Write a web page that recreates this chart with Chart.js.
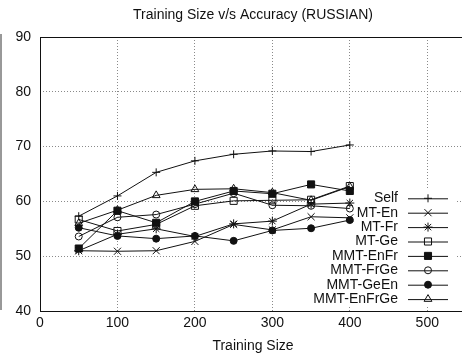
<!DOCTYPE html>
<html>
<head>
<meta charset="utf-8">
<script src="https://cdn.jsdelivr.net/npm/chart.js@4.4.1/dist/chart.umd.min.js"></script>
<style>
    html, body { margin: 0; padding: 0; overflow: hidden; background: #fff; }
    canvas { display: block; }
</style>
</head>
<body>
<canvas id="accChart" width="480" height="356"></canvas>
<script>
// Data
const trainingSizes = [50, 100, 150, 200, 250, 300, 350, 400];
const selfAcc       = [57.3, 61.0, 65.3, 67.4, 68.6, 69.2, 69.1, 70.3];
const mtEn          = [51.0, 50.9, 51.0, 52.7, 55.8, 54.8, 57.2, 57.0];
const mtFr          = [51.0, 54.0, 55.0, 53.6, 55.9, 56.4, 59.5, 59.7];
const mtGe          = [56.7, 54.6, 55.8, 59.2, 60.1, 60.2, 60.3, 62.8];
const mmtEnFr       = [51.4, 58.3, 56.1, 60.0, 61.9, 61.4, 63.1, 61.9];
const mmtFrGe       = [53.6, 57.1, 57.6, 59.5, 61.5, 59.3, 59.2, 58.7];
const mmtGeEn       = [55.2, 53.7, 53.2, 53.7, 52.8, 54.7, 55.1, 56.6];
const mmtEnFrGe     = [56.0, 58.4, 61.1, 62.2, 62.3, 61.6, 60.2, 62.7];

const seriesNames = ['Self', 'MT-En', 'MT-Fr', 'MT-Ge', 'MMT-EnFr', 'MMT-FrGe', 'MMT-GeEn', 'MMT-EnFrGe'];
const seriesValues = [selfAcc, mtEn, mtFr, mtGe, mmtEnFr, mmtFrGe, mmtGeEn, mmtEnFrGe];

const xTickValues = [0, 100, 200, 300, 400, 500];
const yTickValues = [40, 50, 60, 70, 80, 90];

const chartTitle = 'Training Size v/s Accuracy (RUSSIAN)';
const xTitle = 'Training Size';

// gnuplot-ish marker for each series (same order as seriesNames)
const markers = [
    { pointStyle: 'cross',    radius: 4,   filled: false },
    { pointStyle: 'crossRot', radius: 5,   filled: false },
    { pointStyle: 'star',     radius: 4.5, filled: false },
    { pointStyle: 'rect',     radius: 5,   filled: false },
    { pointStyle: 'rect',     radius: 5,   filled: true  },
    { pointStyle: 'circle',   radius: 3.5, filled: false },
    { pointStyle: 'circle',   radius: 3.5, filled: true  },
    { pointStyle: 'triangle', radius: 4.5, filled: false }
];

const INK = '#111';
const FONT = '"Liberation Sans", Arial, Helvetica, sans-serif';

Chart.defaults.font.family = FONT;
Chart.defaults.font.size = 14;
Chart.defaults.color = INK;

const datasets = seriesNames.map((name, i) => ({
    label: name,
    data: trainingSizes.map((x, j) => ({ x: x, y: seriesValues[i][j] })),
    borderColor: INK,
    borderWidth: 1,
    backgroundColor: markers[i].filled ? INK : 'rgba(0,0,0,0)',
    pointStyle: markers[i].pointStyle,
    pointRadius: markers[i].radius,
    pointBorderColor: INK,
    pointBackgroundColor: markers[i].filled ? INK : 'rgba(0,0,0,0)',
    pointBorderWidth: 1,
    tension: 0,
    fill: false
}));

// key inside the plot, text right-aligned with the sample on its right (gnuplot style)
const keyBox = { left: 310, right: 457, top: 189, bottom: 307 };
const keyRows = { textRight: 398, sampleLeft: 408, sampleRight: 448, first: 198.3, step: 14.4 };

const gnuplotLook = {
    id: 'gnuplotLook',
    beforeDatasetsDraw(chart) {
        // grid is not drawn under the key
        const { ctx, chartArea } = chart;
        ctx.save();
        ctx.beginPath();
        ctx.rect(chartArea.left, chartArea.top, chartArea.right - chartArea.left, chartArea.bottom - chartArea.top);
        ctx.clip();
        ctx.fillStyle = '#fff';
        ctx.fillRect(keyBox.left, keyBox.top, keyBox.right - keyBox.left, keyBox.bottom - keyBox.top);
        ctx.restore();
    },
    afterDraw(chart) {
        const { ctx, chartArea } = chart;
        ctx.save();

        // plot frame
        ctx.strokeStyle = INK;
        ctx.lineWidth = 1;
        const l = Math.round(chartArea.left) + 0.5;
        const t = Math.round(chartArea.top) + 0.5;
        const r = Math.round(chartArea.right) + 0.5;
        const b = Math.round(chartArea.bottom) + 0.5;
        ctx.strokeRect(l, t, r - l, b - t);

        // stray border on the far left of the figure
        ctx.strokeStyle = '#333';
        ctx.beginPath();
        ctx.moveTo(1, 34);
        ctx.lineTo(1, 310);
        ctx.stroke();

        // title
        ctx.fillStyle = INK;
        ctx.font = '14px ' + FONT;
        ctx.textAlign = 'center';
        ctx.textBaseline = 'middle';
        ctx.fillText(chartTitle, (chartArea.left + chartArea.right) / 2, 15);

        // key
        chart.data.datasets.forEach((ds, i) => {
            const y = keyRows.first + i * keyRows.step;
            ctx.fillStyle = INK;
            ctx.textAlign = 'right';
            ctx.fillText(ds.label, keyRows.textRight, y);

            ctx.strokeStyle = INK;
            ctx.lineWidth = 1;
            ctx.beginPath();
            ctx.moveTo(keyRows.sampleLeft, y + 0.5);
            ctx.lineTo(keyRows.sampleRight, y + 0.5);
            ctx.stroke();

            const mx = (keyRows.sampleLeft + keyRows.sampleRight) / 2;
            ctx.fillStyle = ds.pointBackgroundColor;
            ctx.strokeStyle = ds.pointBorderColor;
            if (Chart.helpers && Chart.helpers.drawPoint) {
                Chart.helpers.drawPoint(ctx, {
                    pointStyle: ds.pointStyle,
                    radius: ds.pointRadius,
                    rotation: 0,
                    borderWidth: 1
                }, mx, y);
            }
        });
        ctx.restore();
    }
};

const gridColor = (edges) => (c) => (edges.includes(c.tick.value) ? 'rgba(0,0,0,0)' : '#8a8a8a');

new Chart(document.getElementById('accChart'), {
    type: 'line',
    data: { datasets: datasets },
    options: {
        responsive: false,
        animation: false,
        layout: { padding: { top: 37, right: 14, left: 0, bottom: 0 } },
        plugins: {
            legend: { display: false },
            title: { display: false },
            tooltip: { enabled: false }
        },
        scales: {
            x: {
                type: 'linear',
                min: 0,
                max: 550,
                afterBuildTicks: (scale) => { scale.ticks = xTickValues.map(v => ({ value: v })); },
                afterFit: (scale) => { scale.height = 45; },
                ticks: { padding: 4, maxRotation: 0, autoSkip: false, color: INK },
                grid: { color: gridColor([0]), lineWidth: 1, drawTicks: false },
                border: { display: false, dash: [1, 2] },
                title: { display: true, text: xTitle, color: INK, padding: { top: 0, bottom: 1 } }
            },
            y: {
                type: 'linear',
                min: 40,
                max: 90,
                afterBuildTicks: (scale) => { scale.ticks = yTickValues.map(v => ({ value: v })); },
                afterFit: (scale) => { scale.width = 40; },
                ticks: { padding: 9, color: INK },
                grid: { color: gridColor([40, 90]), lineWidth: 1, drawTicks: false },
                border: { display: false, dash: [1, 2] }
            }
        }
    },
    plugins: [gnuplotLook]
});
</script>
</body>
</html>
